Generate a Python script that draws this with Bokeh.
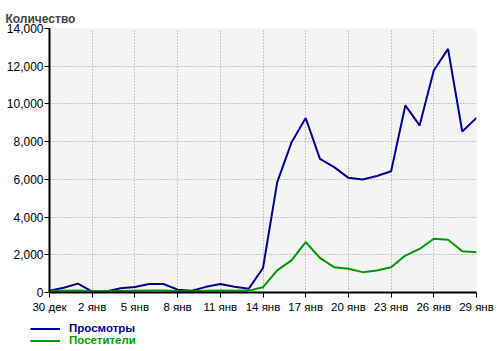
from bokeh.plotting import figure
from bokeh.layouts import column
from bokeh.models import Range1d, FixedTicker, NumeralTickFormatter, Legend, LegendItem
from bokeh.embed import file_html
from bokeh.resources import INLINE

# ---- data ----
days = list(range(31))  # 30 дек .. 29 янв
views = [100, 250, 470, 50, 50, 230, 290, 450, 450, 150, 90, 300, 450, 300, 200,
         1300, 5850, 7950, 9250, 7090, 6650, 6080, 5990, 6180, 6430, 9920, 8860,
         11770, 12920, 8540, 9260]
visitors = [80, 90, 100, 60, 60, 80, 90, 100, 100, 80, 70, 90, 100, 90, 100,
            280, 1170, 1700, 2670, 1840, 1340, 1260, 1080, 1170, 1340, 1960, 2310,
            2850, 2800, 2190, 2140]
tick_pos = [0, 3, 6, 9, 12, 15, 18, 21, 24, 27, 30]
tick_labels = ["30 дек", "2 янв", "5 янв", "8 янв", "11 янв", "14 янв",
               "17 янв", "20 янв", "23 янв", "26 янв", "29 янв"]
y_ticks = [0, 2000, 4000, 6000, 8000, 10000, 12000, 14000]
series_names = ["Просмотры", "Посетители"]
title_text = "Количество"

BLUE = "#000099"
GREEN = "#009900"
FONT = "Liberation Sans"

p = figure(width=500, height=318, output_backend="svg", toolbar_location=None,
           x_range=Range1d(0, 30), y_range=Range1d(0, 14000),
           min_border_left=49, min_border_right=24, min_border_top=28,
           min_border_bottom=26)

p.background_fill_color = "#f4f4f4"
p.border_fill_color = "white"
p.outline_line_color = None

p.title.text = title_text
p.title.text_font = FONT
p.title.text_font_size = "12px"
p.title.text_font_style = "bold"
p.title.align = "left"
p.title.offset = -44
p.title.standoff = 6

# axes
for ax in (p.xaxis[0], p.yaxis[0]):
    ax.axis_line_color = "black"
    ax.axis_line_width = 2
    ax.major_tick_line_color = "black"
    ax.major_tick_in = 0
    ax.major_tick_out = 5
    ax.minor_tick_line_color = None
    ax.major_label_text_font = FONT
    ax.major_label_text_color = "black"

p.xaxis.ticker = FixedTicker(ticks=tick_pos)
p.xaxis.major_label_overrides = {t: l for t, l in zip(tick_pos, tick_labels)}
p.xaxis.major_label_text_font_size = "11.5px"
p.xaxis.major_label_standoff = 3

p.yaxis.ticker = FixedTicker(ticks=y_ticks)
p.yaxis.formatter = NumeralTickFormatter(format="0,0")
p.yaxis.major_label_text_font_size = "12px"
p.yaxis.major_label_standoff = 1

# grid
for g in (p.xgrid[0], p.ygrid[0]):
    g.grid_line_color = "#999999"
    g.grid_line_dash = "1 2"
    g.grid_line_width = 1
p.xgrid.ticker = FixedTicker(ticks=tick_pos)
p.ygrid.ticker = FixedTicker(ticks=y_ticks)

p.line(days, views, line_color=BLUE, line_width=2)
p.line(days, visitors, line_color=GREEN, line_width=2)

# ---- legend strip below ----
lg_fig = figure(width=500, height=33, output_backend="svg", toolbar_location=None,
                x_range=Range1d(100, 101), y_range=Range1d(-2, -1),
                x_axis_location=None, y_axis_location=None,
                min_border_left=0, min_border_right=0,
                min_border_top=0, min_border_bottom=0,
                outline_line_color=None)
lg_fig.grid.visible = False
lg_fig.background_fill_color = "white"
lg_fig.border_fill_color = "white"

# legend-only renderers (same series, outside this strip's visible range)
rv = lg_fig.line(days, views, line_color=BLUE, line_width=2)
rp = lg_fig.line(days, visitors, line_color=GREEN, line_width=2)

def make_legend(name, renderer, color, loc):
    return Legend(items=[LegendItem(label=name, renderers=[renderer])],
                  location=loc, orientation="vertical",
                  glyph_width=30, glyph_height=11, label_height=11,
                  label_standoff=9, padding=0, margin=0, spacing=0,
                  border_line_color=None, background_fill_alpha=0,
                  label_text_font=FONT, label_text_font_size="11.5px",
                  label_text_font_style="bold", label_text_color=color)

lg_fig.add_layout(make_legend(series_names[0], rv, BLUE, (30, 17)), "center")
lg_fig.add_layout(make_legend(series_names[1], rp, GREEN, (30, 5)), "center")

layout = column(p, column(lg_fig, spacing=0), spacing=0)
open("out.html", "w").write(file_html(layout, INLINE))
